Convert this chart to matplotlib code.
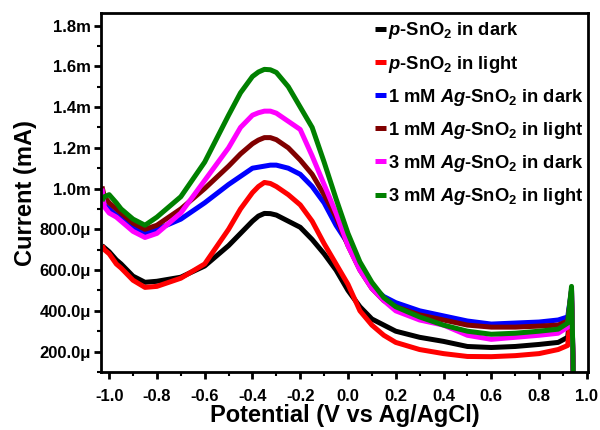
import matplotlib
matplotlib.use("Agg")
import matplotlib.pyplot as plt
from matplotlib.ticker import MultipleLocator, FuncFormatter

plt.rcParams['font.family'] = ['Liberation Sans', 'DejaVu Sans']
plt.rcParams['font.weight'] = 'bold'
plt.rcParams['mathtext.fontset'] = 'custom'
plt.rcParams['mathtext.rm'] = 'Liberation Sans:bold'
plt.rcParams['mathtext.it'] = 'Liberation Sans:italic:bold'
plt.rcParams['mathtext.bf'] = 'Liberation Sans:bold'

# Potential (V vs Ag/AgCl)
potential = [-1.03, -1.02, -1.0, -0.97, -0.95, -0.9, -0.85, -0.8, -0.7, -0.6,
             -0.5, -0.45, -0.4, -0.375, -0.35, -0.325, -0.3, -0.25, -0.2, -0.15,
             -0.1, -0.05, 0.0, 0.05, 0.1, 0.15, 0.2, 0.3, 0.4, 0.5,
             0.6, 0.7, 0.8, 0.88, 0.92, 0.936, 0.945]

# Currents in mA
p_dark = [0.72, 0.71, 0.69, 0.65, 0.63, 0.57, 0.54, 0.545, 0.565, 0.62,
          0.72, 0.78, 0.84, 0.865, 0.878, 0.877, 0.87, 0.84, 0.81, 0.75,
          0.68, 0.60, 0.50, 0.42, 0.36, 0.33, 0.30, 0.27, 0.25, 0.225,
          0.22, 0.225, 0.235, 0.245, 0.27, 0.45, 0.0]
p_light = [0.72, 0.70, 0.68, 0.63, 0.61, 0.55, 0.515, 0.52, 0.56, 0.63,
           0.80, 0.90, 0.98, 1.01, 1.03, 1.025, 1.01, 0.97, 0.92, 0.84,
           0.73, 0.63, 0.53, 0.40, 0.33, 0.28, 0.245, 0.21, 0.19, 0.176,
           0.175, 0.18, 0.19, 0.21, 0.23, 0.45, 0.0]
ag1_dark = [0.95, 0.92, 0.90, 0.87, 0.86, 0.81, 0.78, 0.80, 0.85, 0.93,
            1.02, 1.06, 1.10, 1.105, 1.11, 1.115, 1.115, 1.10, 1.07, 1.01,
            0.93, 0.82, 0.73, 0.61, 0.52, 0.47, 0.44, 0.40, 0.375, 0.35,
            0.335, 0.34, 0.345, 0.355, 0.37, 0.50, 0.0]
ag1_light = [1.01, 0.96, 0.93, 0.90, 0.88, 0.83, 0.80, 0.82, 0.90, 1.00,
             1.11, 1.17, 1.22, 1.238, 1.25, 1.25, 1.24, 1.20, 1.14, 1.07,
             0.97, 0.86, 0.72, 0.60, 0.51, 0.45, 0.42, 0.38, 0.355, 0.33,
             0.32, 0.32, 0.325, 0.33, 0.35, 0.50, 0.0]
ag3_dark = [1.00, 0.91, 0.88, 0.86, 0.84, 0.79, 0.76, 0.78, 0.88, 1.04,
            1.20, 1.30, 1.36, 1.372, 1.38, 1.38, 1.37, 1.33, 1.29, 1.16,
            1.02, 0.88, 0.72, 0.60, 0.51, 0.45, 0.40, 0.355, 0.33, 0.28,
            0.26, 0.27, 0.28, 0.29, 0.32, 0.50, 0.0]
ag3_light = [0.94, 0.96, 0.97, 0.93, 0.90, 0.85, 0.82, 0.86, 0.96, 1.13,
             1.36, 1.47, 1.55, 1.572, 1.585, 1.583, 1.57, 1.50, 1.40, 1.30,
             1.13, 0.95, 0.78, 0.64, 0.54, 0.465, 0.42, 0.37, 0.33, 0.30,
             0.285, 0.29, 0.30, 0.31, 0.34, 0.52, 0.0]

series = [
    (p_dark, '#000000', r'$\mathit{p}$-SnO$_2$ in dark'),
    (p_light, '#ff0000', r'$\mathit{p}$-SnO$_2$ in light'),
    (ag1_dark, '#0000ff', r'1 mM $\mathit{Ag}$-SnO$_2$ in dark'),
    (ag1_light, '#800000', r'1 mM $\mathit{Ag}$-SnO$_2$ in light'),
    (ag3_dark, '#ff00ff', r'3 mM $\mathit{Ag}$-SnO$_2$ in dark'),
    (ag3_light, '#008000', r'3 mM $\mathit{Ag}$-SnO$_2$ in light'),
]

fig = plt.figure(figsize=(6.0, 4.3), dpi=100)
ax = fig.add_axes([0.168, 0.135, 0.812, 0.834])

for vals, col, lab in series:
    ax.plot(potential, [v * 1e-3 for v in vals], color=col, lw=3.6, label=lab,
            solid_joinstyle='round', solid_capstyle='butt')

ax.set_xlim(-1.035, 1.005)
ax.set_ylim(0.1e-3, 1.86e-3)
ax.xaxis.set_major_locator(MultipleLocator(0.2))
ax.xaxis.set_minor_locator(MultipleLocator(0.1))
ax.yaxis.set_major_locator(MultipleLocator(0.2e-3))
ax.yaxis.set_minor_locator(MultipleLocator(0.1e-3))


def yfmt(v, pos):
    if v >= 0.999e-3:
        return f"{v * 1e3:.1f}m"
    return f"{v * 1e6:.1f}\u03bc"


ax.yaxis.set_major_formatter(FuncFormatter(yfmt))
ax.xaxis.set_major_formatter(FuncFormatter(lambda v, p: f"{v:.1f}"))

for s in ax.spines.values():
    s.set_linewidth(2.0)
ax.tick_params(which='major', direction='out', length=5, width=2, labelsize=12,
               top=False, right=False)
ax.tick_params(axis='y', which='major', pad=2)
ax.tick_params(axis='x', which='major', pad=7)
ax.tick_params(which='minor', direction='out', length=3, width=1.5,
               top=False, right=False)
for lab in ax.get_xticklabels() + ax.get_yticklabels():
    lab.set_fontweight('bold')

ax.set_xlabel('Potential (V vs Ag/AgCl)', fontsize=17, fontweight='bold', labelpad=0)
ax.set_ylabel('Current (mA)', fontsize=17, fontweight='bold', labelpad=2)

leg = ax.legend(loc='upper right', frameon=False, fontsize=13.2, handlelength=0.6,
                handletextpad=0.1, labelspacing=0.66, borderaxespad=0.05,
                borderpad=0.2, bbox_to_anchor=(1.0, 0.993))
for t in leg.get_texts():
    t.set_fontweight('bold')

fig.savefig('out.png', dpi=100)
